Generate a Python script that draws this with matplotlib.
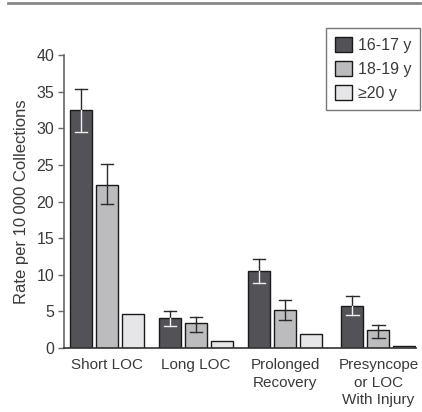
import matplotlib
matplotlib.use("Agg")
import matplotlib.pyplot as plt
import numpy as np
from matplotlib.patches import Patch

categories = ["Short LOC", "Long LOC", "Prolonged\nRecovery", "Presyncope\nor LOC\nWith Injury"]
series_names = ["16-17 y", "18-19 y", "\u226520 y"]
v_1617 = [32.5, 4.1, 10.5, 5.7]
v_1819 = [22.2, 3.4, 5.2, 2.4]
v_20 = [4.7, 0.9, 1.9, 0.3]
err_hi_1617 = [35.3, 5.05, 12.2, 7.05]
err_lo_1617 = [29.5, 3.0, 8.9, 4.5]
err_hi_1819 = [25.1, 4.3, 6.5, 3.2]
err_lo_1819 = [19.6, 2.2, 3.8, 1.4]
yticks = [0, 5, 10, 15, 20, 25, 30, 35, 40]

plt.rcParams['font.family'] = ['Liberation Sans', 'DejaVu Sans']
W, H = 422, 412
fig = plt.figure(figsize=(W/100, H/100), dpi=100)
ax = fig.add_axes([64/W, (H-348)/H, (416-64)/W, (348-55)/H])

centers = np.array([0, 1, 2, 3.05])
off = 0.292
bw = 0.247
colors = ["#525257", "#bcbcbe", "#e6e6e8"]
edge = "#1a1a1a"
txt = "#3a3a3a"
fs = 11.5

vals = [v_1617, v_1819, v_20]
for i, (v, c) in enumerate(zip(vals, colors)):
    ax.bar(centers + (i-1)*off, v, width=bw, color=c, edgecolor=edge, linewidth=1.0, zorder=2)

def draw_err(x, v, hi, lo, lo_color):
    cap = 0.07
    for xi, vi, h, l in zip(x, v, hi, lo):
        ax.plot([xi, xi], [vi, h], color="#2a2a2a", lw=1.0, zorder=3)
        ax.plot([xi-cap, xi+cap], [h, h], color="#2a2a2a", lw=1.0, zorder=3)
        ax.plot([xi, xi], [l, vi], color=lo_color, lw=1.0, zorder=3)
        ax.plot([xi-cap, xi+cap], [l, l], color=lo_color, lw=1.0, zorder=3)

draw_err(centers - off, v_1617, err_hi_1617, err_lo_1617, "#f0f0f0")
draw_err(centers, v_1819, err_hi_1819, err_lo_1819, "#2a2a2a")

ax.set_xlim((64-107)/89, (416-107)/89)
ax.set_ylim(0, 40)
ax.set_yticks(yticks)
ax.set_yticklabels([str(t) for t in yticks], fontsize=fs, color=txt)
ax.set_xticks(centers)
ax.set_xticklabels(categories, fontsize=11, color=txt, linespacing=1.35)
ax.tick_params(axis='x', length=0, pad=7)
ax.tick_params(axis='y', length=4, width=1, color="#666666", pad=3)
for s in ["top", "right"]:
    ax.spines[s].set_visible(False)
ax.spines["left"].set_color("#666666")
ax.spines["left"].set_linewidth(1.2)
ax.spines["bottom"].set_color("#333333")
ax.spines["bottom"].set_linewidth(1.2)
ax.set_ylabel("Rate per 10\u2009000 Collections", fontsize=12, color=txt, labelpad=5)

handles = [Patch(facecolor=c, edgecolor=edge, linewidth=1.0) for c in colors]
leg = ax.legend(handles, series_names, loc="upper right", bbox_to_anchor=(1.035, 1.12),
                fontsize=fs, frameon=True, fancybox=False, edgecolor="#555555",
                handlelength=1.1, handleheight=1.1, handletextpad=0.35, borderpad=0.55,
                labelspacing=0.5)
for t in leg.get_texts():
    t.set_color(txt)
leg.get_frame().set_linewidth(1.0)

fig.add_artist(plt.Line2D([8/W, 420/W], [(H-3)/H, (H-3)/H], color="#888888", lw=2, transform=fig.transFigure))

fig.savefig("out.png", dpi=100)
